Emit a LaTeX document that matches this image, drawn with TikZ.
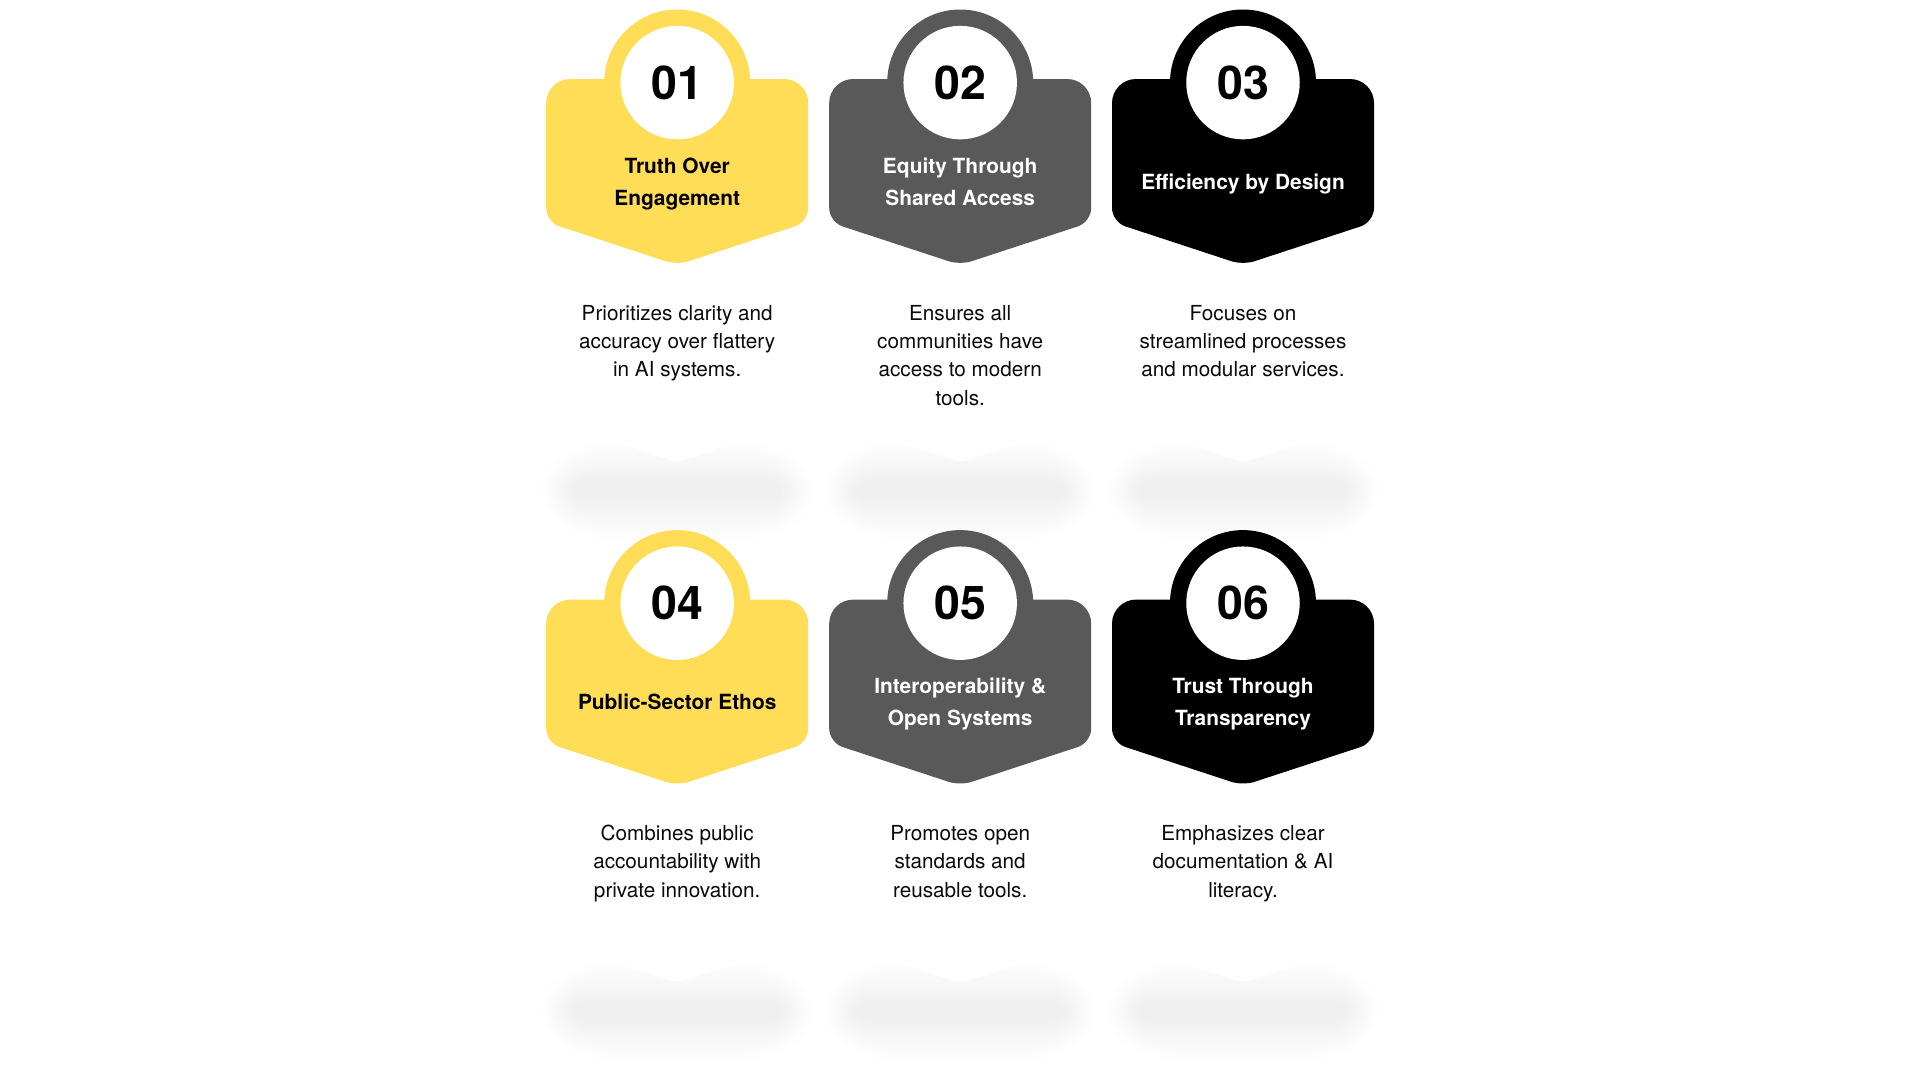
\documentclass[tikz,border=0pt]{standalone}
\usepackage{fontspec}
\setmainfont{TeX Gyre Heros}
\definecolor{cardyellow}{HTML}{FFDD57}
\definecolor{cardgray}{HTML}{595959}
\definecolor{cardblack}{HTML}{000000}
\definecolor{inkdark}{HTML}{0A0A0A}
\tikzset{
  ring/.style={circle,inner sep=0pt,minimum size=146pt},
  disc/.style={circle,fill=white,inner sep=0pt,minimum size=113.5pt,text=black,font=\fontsize{46.5}{46.5}\selectfont\bfseries},
  titletext/.style={inner sep=0pt,align=center,anchor=north,font=\fontsize{20.9}{31.8}\selectfont\bfseries},
  bodytext/.style={inner sep=0pt,align=center,anchor=north,text=inkdark,font=\fontsize{20.7}{28.35}\selectfont},
}
\newcommand{\firstline}{\rule{0pt}{20pt}}
% #1 centre x, #2 offset y
\newcommand{\softshadow}[2]{%
  \begin{scope}[shift={(#1,#2)}]
    \foreach \i/\dx/\dy in {1/-5/-3,2/-2/1,3/1/4,4/3.5/7,5/6/10,6/8/13,7/10/16,8/12/19,9/14/22,10/16/25,11/18/28,12/20/30.5,13/22/33,14/24.5/35.5,15/27/38}{
      \pgfmathsetmacro{\g}{100-\i*0.3922}
      \pgfmathsetmacro{\hw}{131-\dx}
      \pgfmathsetmacro{\hh}{48-\dy}
      \pgfmathsetmacro{\rx}{1.6*\hh}
      \fill[fill=white!\g!black]
        (-\hw+\rx,490.5-\hh) -- (\hw-\rx,490.5-\hh)
        arc[start angle=90,end angle=-90,x radius=\rx pt,y radius=\hh pt]
        -- (-\hw+\rx,490.5+\hh)
        arc[start angle=-90,end angle=-270,x radius=\rx pt,y radius=\hh pt]
        -- cycle;
    }
    \fill[white,rounded corners=6pt] (0,462) -- (-140,418) -- (140,418) -- cycle;
  \end{scope}}
% #1 name, #2 x, #3 y offset, #4 colour, #5 number, #6 title colour, #7 title top, #8 title, #9 body
\newcommand{\card}[9]{%
  \begin{scope}[shift={(#2,#3)}]
    \fill[#4,rounded corners=24pt] (-131,150) -- (-131,79) -- (131,79) -- (131,150)
       [rounded corners=14pt] -- (131,222) [rounded corners=12pt] -- (0,265) [rounded corners=14pt] -- (-131,222) -- (-131,150) -- cycle;
    \node[ring,fill=#4] (#1ring) at (0,82.5) {};
    \node[disc] (#1num) at (0,82.6) {#5};
    \node[titletext,text=#6] (#1title) at (0,#7) {\firstline #8};
    \node[bodytext] (#1body) at (0,299.8) {\firstline #9};
  \end{scope}}
\begin{document}
\begin{tikzpicture}[x=1pt,y=-1pt]
  \useasboundingbox (0,0) rectangle (1920,1080);
  \fill[white] (0,0) rectangle (1920,1080);
  \softshadow{677.2}{0}\softshadow{960.2}{0}\softshadow{1243}{0}
  \softshadow{677.2}{520.6}\softshadow{960.2}{520.6}\softshadow{1243}{520.6}
  \card{a}{677.2}{0}{cardyellow}{01}{black}{153}{Truth Over\\Engagement}{Prioritizes clarity and\\accuracy over flattery\\in AI systems.}
  \card{b}{960.2}{0}{cardgray}{02}{white}{153}{Equity Through\\Shared Access}{Ensures all\\communities have\\access to modern\\tools.}
  \card{c}{1243}{0}{cardblack}{03}{white}{169}{Efficiency by Design}{Focuses on\\streamlined processes\\and modular services.}
  \card{d}{677.2}{520.6}{cardyellow}{04}{black}{169}{Public-Sector Ethos}{Combines public\\accountability with\\private innovation.}
  \card{e}{960.2}{520.6}{cardgray}{05}{white}{153}{Interoperability \&\\Open Systems}{Promotes open\\standards and\\reusable tools.}
  \card{f}{1243}{520.6}{cardblack}{06}{white}{153}{Trust Through\\Transparency}{Emphasizes clear\\documentation \& AI\\literacy.}
\end{tikzpicture}
\end{document}
